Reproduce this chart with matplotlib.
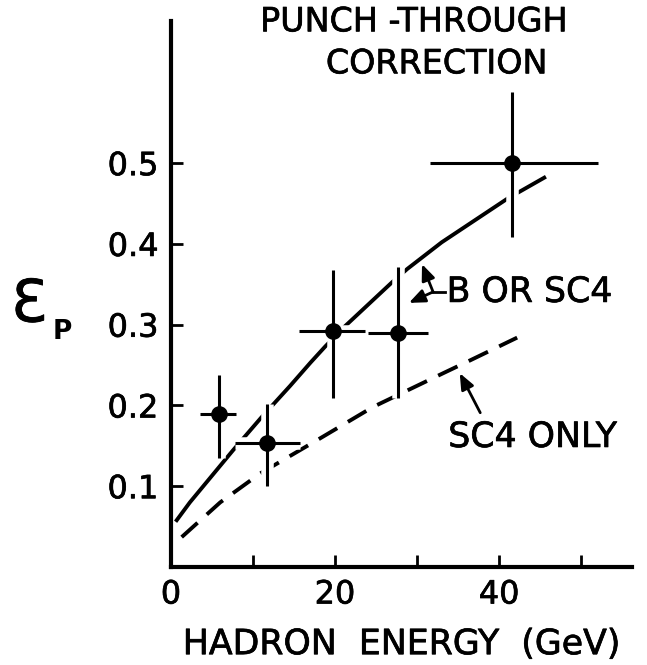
import matplotlib
matplotlib.use("Agg")
import matplotlib.pyplot as plt
import matplotlib.patheffects as pe

# measured points (hadron energy in GeV, punch-through probability)
energy = [5.8, 11.7, 19.8, 27.7, 41.6]
eps_p = [0.189, 0.154, 0.292, 0.290, 0.500]
energy_lo = [3.5, 7.8, 15.6, 24.0, 31.6]
energy_hi = [7.9, 15.7, 23.7, 31.3, 52.0]
eps_lo = [0.135, 0.100, 0.209, 0.209, 0.409]
eps_hi = [0.238, 0.202, 0.368, 0.372, 0.588]

# "B or SC4" curve (solid)
b_or_sc4_x = [0.7, 2.3, 7.6, 11.0, 14.5, 17.0, 18.8, 21.2, 27.0, 28.8, 33.0, 41.0, 45.5]
b_or_sc4_y = [0.058, 0.080, 0.145, 0.185, 0.224, 0.253, 0.273, 0.298, 0.353, 0.369, 0.402, 0.456, 0.482]

# "SC4 only" curve (dashed)
sc4_x = [1.3, 6.0, 10.9, 17.8, 24.6, 33.4, 36.5, 42.2]
sc4_y = [0.037, 0.080, 0.116, 0.157, 0.198, 0.241, 0.256, 0.284]

xticks = [0, 10, 20, 30, 40, 50]
xticklabels = ["0", "", "20", "", "40", ""]
yticks = [0.1, 0.2, 0.3, 0.4, 0.5]
yticklabels = ["0.1", "0.2", "0.3", "0.4", "0.5"]

W, H = 647, 665
fig = plt.figure(figsize=(W / 100, H / 100), dpi=100)
ax = fig.add_axes([171 / W, 1 - 567 / H, (632 - 171) / W, (567 - 21) / H])
ax.set_xlim(0, 56.2)
ax.set_ylim(0, 0.676)

for s in ["top", "right"]:
    ax.spines[s].set_visible(False)
for s in ["left", "bottom"]:
    ax.spines[s].set_linewidth(3)

# slightly heavier lettering, like the drafted original
heavy = [pe.withStroke(linewidth=0.5, foreground="black")]

ax.set_xticks(xticks)
ax.set_xticklabels(xticklabels)
ax.set_yticks(yticks)
ax.set_yticklabels(yticklabels)
ax.tick_params(direction="in", length=8.5, width=2, labelsize=23, pad=9)
for lab in ax.get_xticklabels() + ax.get_yticklabels():
    lab.set_path_effects(heavy)

# curves
ax.plot(b_or_sc4_x, b_or_sc4_y, color="black", lw=2.8, zorder=2)
ax.plot(sc4_x, sc4_y, color="black", lw=2.8, ls=(0, (5.5, 3.2)), zorder=2)

# error bars, with a white halo so the curves break where they cross
xerr = [[e - lo for e, lo in zip(energy, energy_lo)], [hi - e for e, hi in zip(energy, energy_hi)]]
yerr = [[v - lo for v, lo in zip(eps_p, eps_lo)], [hi - v for v, hi in zip(eps_p, eps_hi)]]
ax.errorbar(energy, eps_p, xerr=xerr, yerr=yerr, fmt="none", ecolor="white",
            elinewidth=9, capsize=0, zorder=3)
ax.errorbar(energy, eps_p, xerr=xerr, yerr=yerr, fmt="o", color="black",
            ms=11, elinewidth=2.2, capsize=0, zorder=4)

# labels
ax.set_xlabel("HADRON  ENERGY  (GeV)", fontsize=25, labelpad=12, path_effects=heavy)
fig.text(29 / W, 1 - 305 / H, "\u0190", fontsize=42, ha="center", va="center",
         path_effects=[pe.withStroke(linewidth=0.6, foreground="black")])
fig.text(62 / W, 1 - 332 / H, "P", fontsize=19, fontweight="bold", ha="center", va="center")

ax.text(29.6, 0.675, "PUNCH -THROUGH", fontsize=24, ha="center", va="center",
        clip_on=False, path_effects=heavy)
ax.text(32.4, 0.623, "CORRECTION", fontsize=24, ha="center", va="center",
        clip_on=False, path_effects=heavy)

# annotations
ax.text(33.6, 0.3406, "B OR SC4", fontsize=25, ha="left", va="center", path_effects=heavy)
ax.plot([31.95, 33.4], [0.3406, 0.3406], color="black", lw=2)
arrow = dict(arrowstyle="-|>,head_length=0.6,head_width=0.25", mutation_scale=16,
             color="black", lw=2, shrinkA=0, shrinkB=0)
ax.annotate("", xy=(30.6, 0.375), xytext=(31.95, 0.3406), arrowprops=arrow)
ax.annotate("", xy=(29.0, 0.327), xytext=(31.95, 0.3406), arrowprops=arrow)

ax.text(33.8, 0.161, "SC4 ONLY", fontsize=25, ha="left", va="center", path_effects=heavy)
ax.annotate("", xy=(35.2, 0.240), xytext=(37.7, 0.191), arrowprops=arrow)

fig.savefig("out.png", dpi=100)
